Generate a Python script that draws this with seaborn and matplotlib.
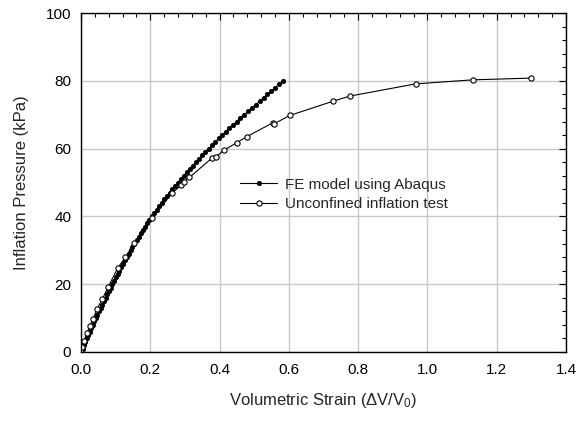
import matplotlib
matplotlib.use("Agg")
import matplotlib.pyplot as plt
from matplotlib.ticker import MultipleLocator
import seaborn as sns
import pandas as pd

# FE model (Abaqus) – dense points
fe_pressure = list(range(0, 81))
fe_strain = [
    0.0000, 0.0043, 0.0086, 0.0129, 0.0172, 0.0216, 0.0259, 0.0302, 0.0345, 0.0388,
    0.0431, 0.0474, 0.0519, 0.0567, 0.0615, 0.0663, 0.0712, 0.0760, 0.0808, 0.0856,
    0.0904, 0.0952, 0.1000, 0.1054, 0.1108, 0.1161, 0.1215, 0.1269, 0.1323, 0.1376,
    0.1430, 0.1484, 0.1543, 0.1604, 0.1665, 0.1726, 0.1787, 0.1848, 0.1909, 0.1970,
    0.2037, 0.2110, 0.2184, 0.2257, 0.2331, 0.2404, 0.2478, 0.2556, 0.2637, 0.2718,
    0.2798, 0.2879, 0.2960, 0.3045, 0.3134, 0.3223, 0.3313, 0.3402, 0.3491, 0.3587,
    0.3683, 0.3779, 0.3875, 0.3971, 0.4073, 0.4177, 0.4281, 0.4385, 0.4490, 0.4600,
    0.4711, 0.4822, 0.4933, 0.5045, 0.5157, 0.5269, 0.5381, 0.5494, 0.5606, 0.5718,
    0.5830,
]

# Unconfined inflation test
test_strain = [0.000, 0.003, 0.008, 0.017, 0.026, 0.035, 0.047, 0.062, 0.079, 0.106,
               0.128, 0.153, 0.205, 0.262, 0.290, 0.297, 0.313, 0.378, 0.389, 0.414,
               0.449, 0.478, 0.555, 0.557, 0.603, 0.728, 0.776, 0.966, 1.132, 1.299]
test_pressure = [0.0, 1.6, 3.1, 5.6, 7.8, 9.8, 12.8, 15.7, 19.3, 24.8,
                 27.9, 32.1, 39.4, 46.8, 49.3, 50.2, 51.5, 57.2, 57.6, 59.6,
                 61.7, 63.5, 67.7, 67.3, 69.8, 74.0, 75.5, 79.1, 80.3, 80.8]

labels = ["FE model using Abaqus", "Unconfined inflation test"]

sns.set_style("white")
plt.rcParams['font.family'] = ['Liberation Sans', 'DejaVu Sans']
plt.rcParams['mathtext.fontset'] = 'custom'
plt.rcParams['mathtext.rm'] = 'Liberation Sans'
plt.rcParams['mathtext.it'] = 'Liberation Sans:italic'

fig = plt.figure(figsize=(5.77, 4.21), dpi=100)
ax = fig.add_axes([0.1404, 0.164, 0.8406, 0.805])

fe_df = pd.DataFrame({"strain": fe_strain, "pressure": fe_pressure})
test_df = pd.DataFrame({"strain": test_strain, "pressure": test_pressure})

sns.lineplot(data=fe_df, x="strain", y="pressure", ax=ax, sort=False, estimator=None,
             color="black", linewidth=0.8, marker="o", markersize=3.2,
             markerfacecolor="black", markeredgecolor="black", markeredgewidth=0.5,
             label=labels[0])
sns.lineplot(data=test_df, x="strain", y="pressure", ax=ax, sort=False, estimator=None,
             color="black", linewidth=0.8, marker="o", markersize=3.8,
             markerfacecolor="white", markeredgecolor="black", markeredgewidth=0.8,
             label=labels[1])

ax.set_xlim(0, 1.4)
ax.set_ylim(0, 100)
ax.xaxis.set_major_locator(MultipleLocator(0.2))
ax.xaxis.set_minor_locator(MultipleLocator(0.04))
ax.yaxis.set_major_locator(MultipleLocator(20))
ax.yaxis.set_minor_locator(MultipleLocator(4))
ax.set_xticklabels([f"{v:.1f}" for v in ax.get_xticks()])
ax.grid(True, which="major", color="#c8c8c8", linewidth=1.0)
ax.set_axisbelow(True)
ax.tick_params(which="both", direction="in", top=True, right=True, colors="black",
               labelsize=11)
ax.tick_params(axis="x", which="major", length=5, width=0.8, pad=8)
ax.tick_params(axis="y", which="major", length=5, width=0.8, pad=7)
ax.tick_params(which="minor", length=3, width=0.8)
for s in ax.spines.values():
    s.set_color("black")
    s.set_linewidth(1.0)

ax.set_xlabel("Volumetric Strain (ΔV/V$_\\mathregular{0}$)", fontsize=12, labelpad=10)
ax.set_ylabel("Inflation Pressure (kPa)", fontsize=12, labelpad=12)

leg = ax.legend(loc="upper left", bbox_to_anchor=(0.30, 0.555), frameon=False,
                fontsize=11, handlelength=2.4, handletextpad=0.5, labelspacing=0.35)

fig.savefig("out.png", dpi=100)
